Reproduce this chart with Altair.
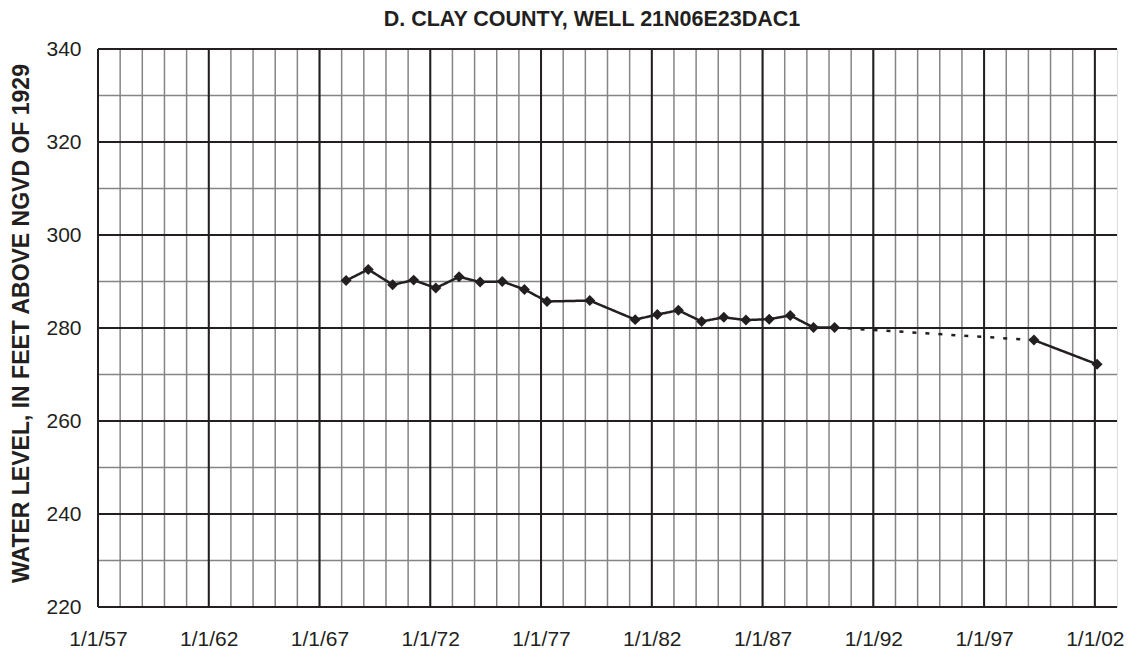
import altair as alt
import pandas as pd

TITLE = "D. CLAY COUNTY, WELL 21N06E23DAC1"

# Observations (decimal year, water level ft)
obs_years = [1968.2, 1969.2, 1970.3, 1971.25, 1972.25, 1973.3, 1974.25, 1975.25,
             1976.25, 1977.27, 1979.2, 1981.25, 1982.25, 1983.2, 1984.25, 1985.25,
             1986.25, 1987.3, 1988.25, 1989.3, 1990.25, 1999.25, 2002.1]
obs_levels = [290.2, 292.6, 289.3, 290.3, 288.6, 291.0, 289.9, 290.0,
              288.3, 285.7, 285.9, 281.8, 282.9, 283.8, 281.4, 282.3,
              281.7, 281.9, 282.7, 280.1, 280.1, 277.4, 272.2]
# index of segment (between point i and i+1) drawn dotted
dotted_segments = [20]

x_major = [1957, 1962, 1967, 1972, 1977, 1982, 1987, 1992, 1997, 2002]
x_minor = list(range(1958, 2003))
y_major = [220, 240, 260, 280, 300, 320, 340]
y_minor = [230, 250, 270, 290, 310, 330]

INK = "#231f20"
GRAY = "#858585"
FONT = "Liberation Sans"

points = pd.DataFrame({"year": obs_years, "level": obs_levels})
seg_rows = []
for i in range(len(obs_years) - 1):
    style = "dotted" if i in dotted_segments else "solid"
    for j in (i, i + 1):
        seg_rows.append({"seg": i, "style": style, "year": obs_years[j], "level": obs_levels[j]})
segs = pd.DataFrame(seg_rows)

xscale = alt.Scale(domain=[1957, 2003], nice=False, zero=False)
yscale = alt.Scale(domain=[220, 340], nice=False, zero=False)

xaxis = alt.Axis(values=x_major, labelExpr="'1/1/' + substring(toString(datum.value), 2)",
                 grid=False, domain=False, ticks=False, labelFontSize=21, labelFont=FONT,
                 labelColor=INK, labelPadding=21, title=None, labelFlush=False,
                 labelOverlap=False)
yaxis = alt.Axis(values=y_major, grid=False, domain=False, ticks=False, labelFontSize=21,
                 labelFont=FONT, labelColor=INK, labelPadding=17, labelOverlap=False,
                 title="WATER LEVEL, IN FEET ABOVE NGVD OF 1929", titleFontSize=23,
                 titleFont=FONT, titleFontWeight="bold", titleColor=INK,
                 titleX=-77, titleY=274, titleAngle=-90, titleAlign="center",
                 titleBaseline="middle")

vminor = alt.Chart(pd.DataFrame({"x": x_minor})).mark_rule(color=GRAY, strokeWidth=1.5).encode(
    x=alt.X("x:Q", scale=xscale, axis=xaxis))
hminor = alt.Chart(pd.DataFrame({"y": y_minor})).mark_rule(color=GRAY, strokeWidth=1.5).encode(
    y=alt.Y("y:Q", scale=yscale, axis=yaxis))
vmajor = alt.Chart(pd.DataFrame({"x": x_major})).mark_rule(color=INK, strokeWidth=2).encode(
    x=alt.X("x:Q", scale=xscale))
hmajor = alt.Chart(pd.DataFrame({"y": y_major})).mark_rule(color=INK, strokeWidth=2).encode(
    y=alt.Y("y:Q", scale=yscale))

lines = alt.Chart(segs).mark_line(color=INK, strokeWidth=2.5).encode(
    x=alt.X("year:Q", scale=xscale),
    y=alt.Y("level:Q", scale=yscale),
    detail="seg:N",
    strokeDash=alt.StrokeDash("style:N", scale=alt.Scale(domain=["solid", "dotted"],
                                                          range=[[1, 0], [4, 9]]), legend=None),
)
marks = alt.Chart(points).mark_point(shape="diamond", filled=True, size=120, color=INK, opacity=1).encode(
    x=alt.X("year:Q", scale=xscale),
    y=alt.Y("level:Q", scale=yscale),
)

title_text = alt.Chart(pd.DataFrame({"t": [TITLE]})).mark_text(
    font=FONT, fontSize=21.5, fontWeight="bold", color=INK, align="center",
    baseline="alphabetic").encode(
    text="t:N", x=alt.value(494), y=alt.value(-23))

chart = alt.layer(vminor, hminor, vmajor, hmajor, lines, marks, title_text).properties(
    width=1019, height=558,
    autosize=alt.AutoSizeParams(type="none"),
    padding={"left": 90, "top": 41, "right": 8, "bottom": 41},
).configure_view(stroke=INK, strokeWidth=2).configure(background="white")

chart.save("out.html", embed_options={"renderer": "svg", "actions": False})
